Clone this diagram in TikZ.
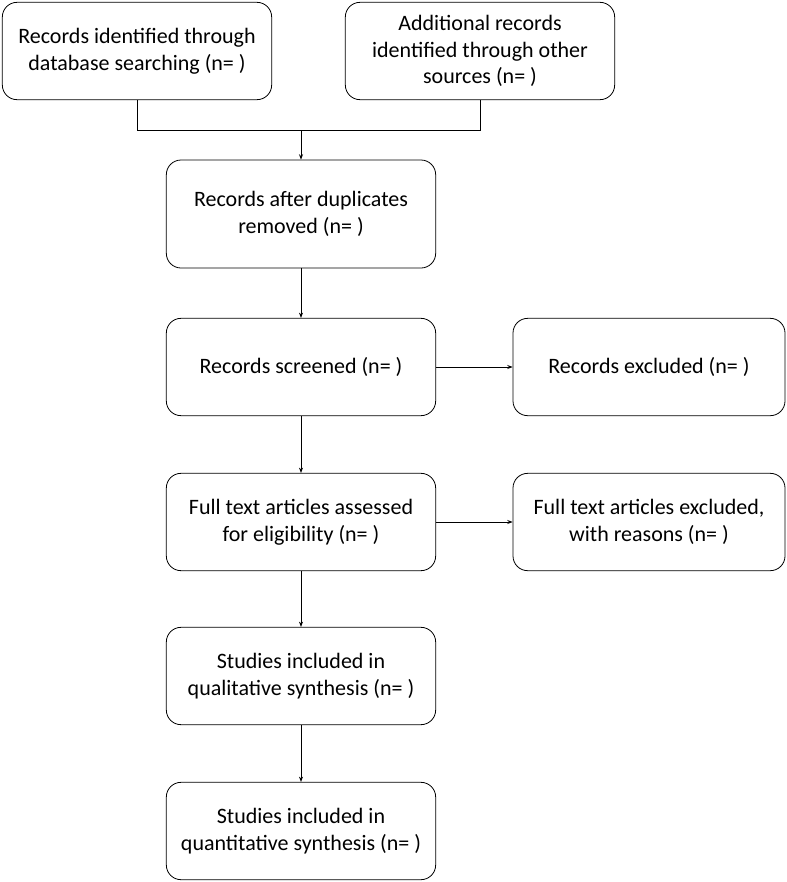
\documentclass[tikz,border=0pt]{standalone}
\usepackage{fontspec}
\setmainfont{Carlito}
\usetikzlibrary{arrows.meta,positioning}

\tikzset{
  box/.style={draw,rounded corners=11pt,minimum width=202pt,minimum height=73pt,
    align=center,font=\fontsize{16.5}{20}\selectfont,line width=0.6pt},
  link/.style={-{Stealth[length=4pt,width=3pt]},line width=0.5pt}
}

\begin{document}
\begin{tikzpicture}[x=0.75pt,y=-0.75pt]
        \useasboundingbox (0,0) rectangle (787,882);
        % Identification
        \node[box] (db) at (137,51) {Records identified through\\database searching (n= )};
        \node[box] (other) at (480,51) {Additional records\\identified through other\\sources (n= )};
        \node[box,minimum height=81pt] (dup) at (301,214) {Records after duplicates\\removed (n= )};
        
        % Screening
        \node[box] (screen) at (301,367) {Records screened (n= )};
        \node[box,minimum width=204pt] (excl) at (649,367) {Records excluded (n= )};
        
        % Eligibility
        \node[box] (full) at (301,522) {Full text articles assessed\\for eligibility (n= )};
        \node[box,minimum width=204pt] (fullexcl) at (649,522) {Full text articles excluded,\\with reasons (n= )};
        
        % Included
        \node[box] (qual) at (301,676) {Studies included in\\qualitative synthesis (n= )};
        \node[box] (quant) at (301,831) {Studies included in\\quantitative synthesis (n= )};
        
        % Connectors
        \coordinate (merge) at (301,130);
        \draw[line width=0.5pt] (db.south) -- (db.south |- merge) -- (other.south |- merge) -- (other.south);
        \draw[link] (merge) -- (dup.north);
        \draw[link] (dup) -- (screen);
        \draw[link] (screen) -- (excl);
        \draw[link] (screen) -- (full);
        \draw[link] (full) -- (fullexcl);
        \draw[link] (full) -- (qual);
        \draw[link] (qual) -- (quant);
\end{tikzpicture}
\end{document}
